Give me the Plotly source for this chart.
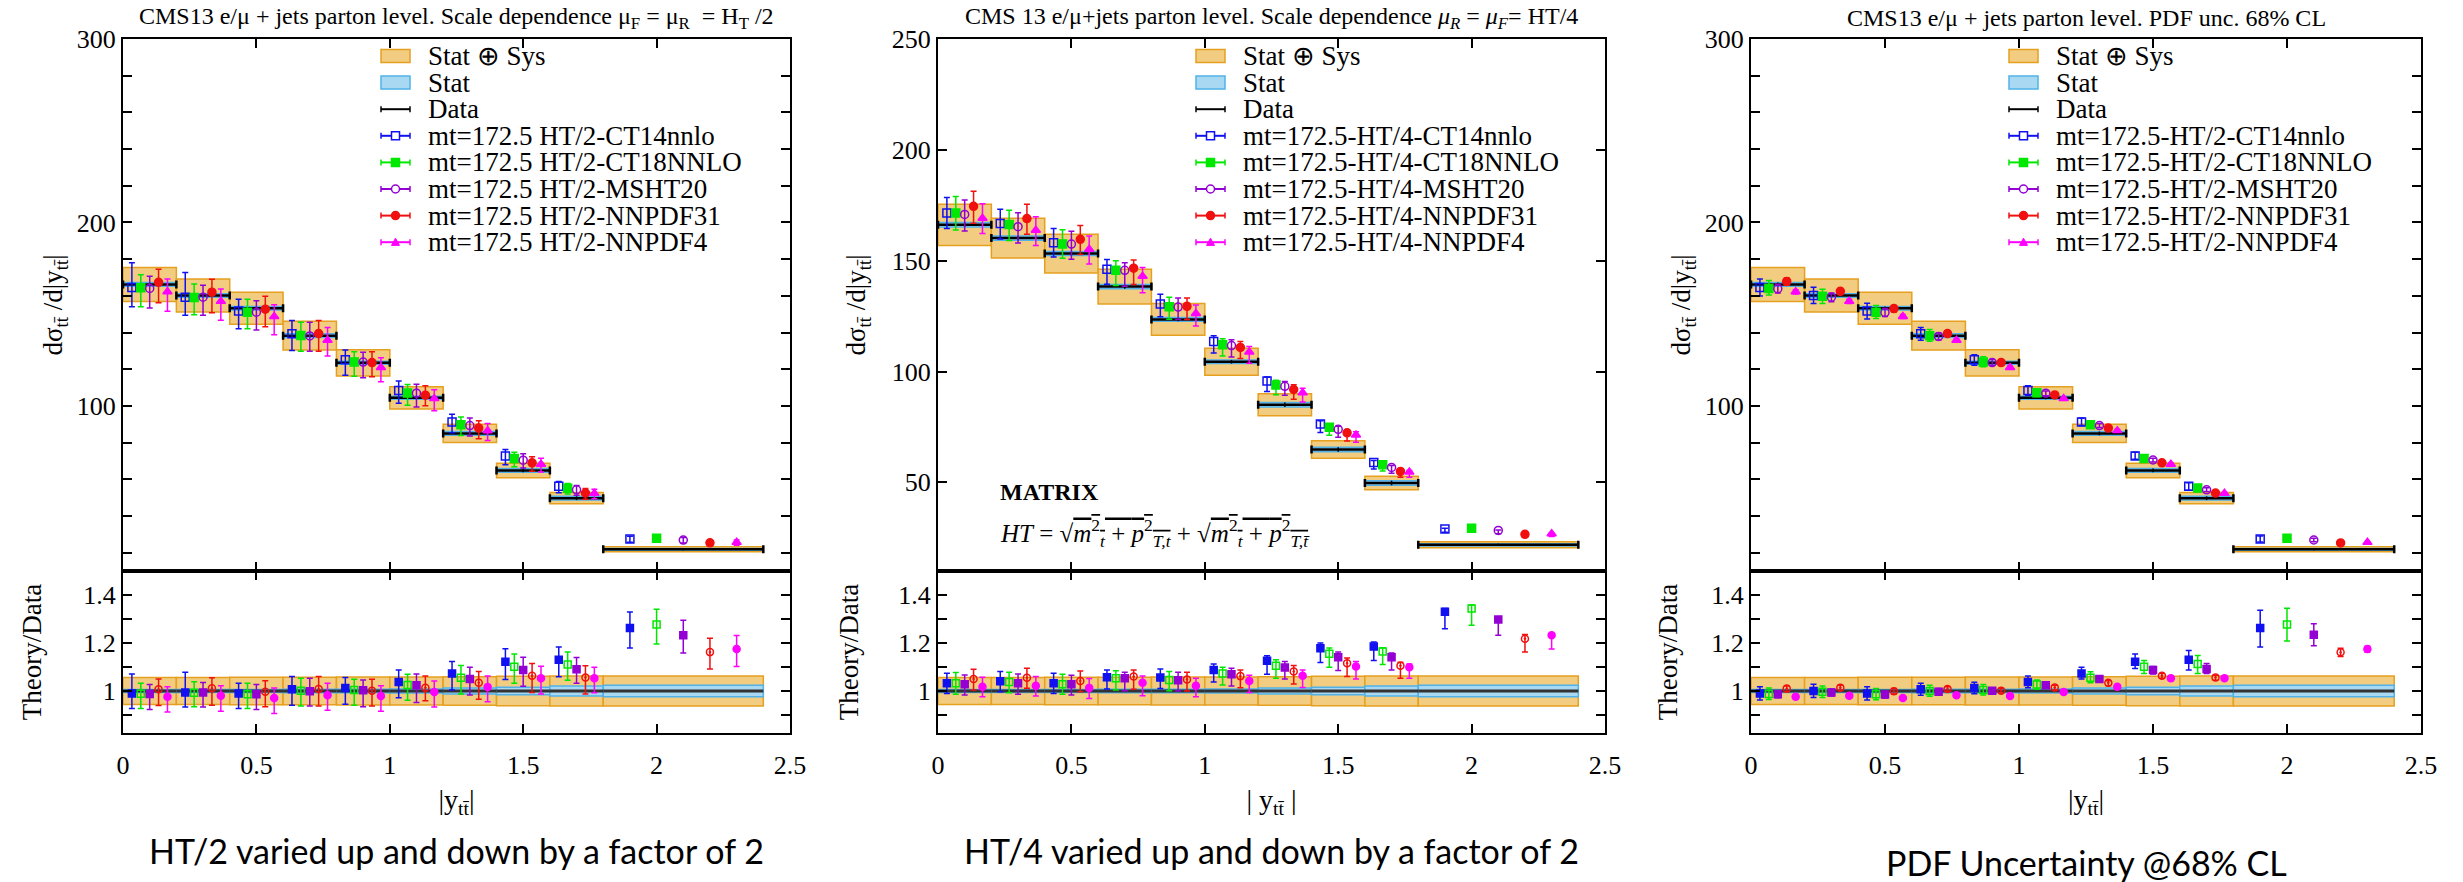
import plotly.graph_objects as go

# ------------------------------------------------------------------ data
BIN_LO = [0.0, 0.2, 0.4, 0.6, 0.8, 1.0, 1.2, 1.4, 1.6, 1.8]
BIN_HI = [0.2, 0.4, 0.6, 0.8, 1.0, 1.2, 1.4, 1.6, 1.8, 2.4]
DATA = [166.2, 160.2, 153.2, 138.3, 123.5, 104.4, 85.0, 64.8, 49.7, 21.8]
TOT_UNC = [0.056, 0.056, 0.057, 0.057, 0.058, 0.058, 0.059, 0.061, 0.062, 0.062]
STAT_UNC = [0.006, 0.006, 0.006, 0.007, 0.007, 0.008, 0.012, 0.016, 0.021, 0.024]

P1_LABELS = ["mt=172.5 HT/2-CT14nnlo", "mt=172.5 HT/2-CT18NNLO", "mt=172.5 HT/2-MSHT20",
             "mt=172.5 HT/2-NNPDF31", "mt=172.5 HT/2-NNPDF4"]
P2_LABELS = ["mt=172.5-HT/4-CT14nnlo", "mt=172.5-HT/4-CT18NNLO", "mt=172.5-HT/4-MSHT20",
             "mt=172.5-HT/4-NNPDF31", "mt=172.5-HT/4-NNPDF4"]
P3_LABELS = ["mt=172.5-HT/2-CT14nnlo", "mt=172.5-HT/2-CT18NNLO", "mt=172.5-HT/2-MSHT20",
             "mt=172.5-HT/2-NNPDF31", "mt=172.5-HT/2-NNPDF4"]
BOX_LABELS = ["Stat ⊕ Sys", "Stat", "Data"]

# theory / data : central, lower, upper  (panel 1: HT/2 scale variation)
P1_C = [
    [0.990, 0.994, 0.990, 1.007, 1.013, 1.038, 1.073, 1.122, 1.130, 1.262],
    [0.989, 0.993, 0.986, 1.001, 1.004, 1.025, 1.055, 1.101, 1.110, 1.277],
    [0.987, 0.994, 0.986, 0.999, 1.003, 1.024, 1.050, 1.087, 1.091, 1.232],
    [1.007, 1.011, 0.997, 1.008, 1.001, 1.014, 1.034, 1.064, 1.056, 1.162],
    [0.976, 0.980, 0.971, 0.982, 0.979, 0.996, 1.017, 1.053, 1.053, 1.175],
]
P1_LO = [
    [0.927, 0.933, 0.927, 0.941, 0.945, 0.972, 1.004, 1.048, 1.059, 1.179],
    [0.927, 0.934, 0.927, 0.938, 0.941, 0.961, 0.987, 1.032, 1.045, 1.196],
    [0.923, 0.933, 0.923, 0.938, 0.934, 0.952, 0.983, 1.020, 1.032, 1.158],
    [0.940, 0.941, 0.934, 0.938, 0.938, 0.959, 0.966, 0.994, 0.987, 1.092],
    [0.912, 0.916, 0.906, 0.920, 0.916, 0.933, 0.955, 0.987, 0.993, 1.102],
]
P1_HI = [
    [1.071, 1.078, 1.032, 1.060, 1.056, 1.088, 1.123, 1.176, 1.183, 1.329],
    [1.032, 1.039, 1.032, 1.053, 1.049, 1.070, 1.106, 1.154, 1.162, 1.341],
    [1.027, 1.035, 1.027, 1.053, 1.046, 1.071, 1.099, 1.141, 1.140, 1.295],
    [1.050, 1.055, 1.043, 1.060, 1.049, 1.063, 1.081, 1.115, 1.105, 1.220],
    [1.018, 1.022, 1.013, 1.032, 1.022, 1.042, 1.063, 1.103, 1.099, 1.231],
]

# panel 2: HT/4 scale variation
P2_C = [
    [1.032, 1.041, 1.032, 1.057, 1.056, 1.087, 1.126, 1.178, 1.185, 1.330],
    [1.032, 1.038, 1.028, 1.053, 1.046, 1.073, 1.105, 1.155, 1.165, 1.344],
    [1.028, 1.032, 1.028, 1.053, 1.045, 1.070, 1.098, 1.141, 1.141, 1.298],
    [1.050, 1.055, 1.042, 1.060, 1.048, 1.062, 1.081, 1.116, 1.105, 1.218],
    [1.018, 1.022, 1.013, 1.034, 1.022, 1.042, 1.064, 1.102, 1.099, 1.232],
]
P2_LO = [
    [0.990, 0.997, 0.990, 1.008, 1.010, 1.038, 1.070, 1.119, 1.127, 1.259],
    [0.986, 0.993, 0.986, 1.004, 1.001, 1.025, 1.053, 1.099, 1.110, 1.274],
    [0.983, 0.986, 0.983, 1.001, 1.000, 1.021, 1.050, 1.085, 1.088, 1.232],
    [1.004, 1.011, 0.997, 1.007, 1.000, 1.014, 1.029, 1.060, 1.053, 1.162],
    [0.976, 0.979, 0.969, 0.980, 0.976, 0.994, 1.015, 1.050, 1.053, 1.175],
]
P2_HI = [
    [1.074, 1.081, 1.074, 1.088, 1.092, 1.112, 1.147, 1.200, 1.204, 1.344],
    [1.077, 1.078, 1.070, 1.084, 1.081, 1.099, 1.130, 1.179, 1.180, 1.358],
    [1.067, 1.071, 1.066, 1.078, 1.078, 1.095, 1.123, 1.162, 1.158, 1.308],
    [1.091, 1.095, 1.083, 1.087, 1.078, 1.088, 1.106, 1.137, 1.120, 1.235],
    [1.057, 1.060, 1.052, 1.062, 1.053, 1.066, 1.088, 1.123, 1.113, 1.239],
]

# panel 3: PDF uncertainty at 68% CL
P3_C = [
    [0.990, 1.000, 0.990, 1.007, 1.013, 1.038, 1.073, 1.122, 1.130, 1.262],
    [0.987, 0.997, 0.986, 1.000, 1.004, 1.027, 1.055, 1.101, 1.112, 1.277],
    [0.986, 0.994, 0.985, 0.997, 1.001, 1.024, 1.050, 1.088, 1.092, 1.234],
    [1.010, 1.014, 0.999, 1.008, 1.001, 1.015, 1.034, 1.064, 1.056, 1.161],
    [0.976, 0.980, 0.971, 0.982, 0.979, 0.996, 1.018, 1.053, 1.053, 1.175],
]
P3_LO = [
    [0.962, 0.973, 0.962, 0.982, 0.989, 1.014, 1.050, 1.094, 1.088, 1.183],
    [0.965, 0.973, 0.964, 0.978, 0.983, 1.007, 1.034, 1.073, 1.073, 1.208],
    [0.972, 0.979, 0.971, 0.983, 0.989, 1.011, 1.038, 1.071, 1.073, 1.189],
    [0.997, 1.003, 0.987, 0.999, 0.992, 1.004, 1.022, 1.053, 1.045, 1.144],
    [0.969, 0.973, 0.964, 0.975, 0.972, 0.989, 1.011, 1.043, 1.045, 1.161],
]
P3_HI = [
    [1.018, 1.028, 1.018, 1.032, 1.036, 1.063, 1.099, 1.154, 1.169, 1.336],
    [1.013, 1.021, 1.010, 1.024, 1.027, 1.046, 1.080, 1.127, 1.148, 1.345],
    [1.001, 1.008, 0.999, 1.010, 1.014, 1.035, 1.063, 1.102, 1.115, 1.280],
    [1.021, 1.024, 1.010, 1.018, 1.011, 1.024, 1.043, 1.073, 1.066, 1.178],
    [0.983, 0.987, 0.978, 0.987, 0.986, 1.001, 1.025, 1.060, 1.062, 1.186],
]

TITLES = [
    "CMS13 e/μ + jets parton level. Scale dependence μ<sub>F</sub> = μ<sub>R</sub>  = H<sub>T</sub> /2",
    "CMS 13 e/μ+jets parton level. Scale dependence <i>μ<sub>R</sub></i> = <i>μ<sub>F</sub></i>= HT/4",
    "CMS13 e/μ + jets parton level. PDF unc. 68% CL",
]
CAPTIONS = ["HT/2 varied up and down by a factor of 2",
            "HT/4 varied up and down by a factor of 2",
            "PDF Uncertainty @68% CL"]

# ------------------------------------------------------------------ style
SERIF = "Liberation Serif, Times New Roman, serif"
COLORS = ["#1010f0", "#00e800", "#9400d3", "#f01010", "#ff00ff"]
MAIN_SYM = ["square-open", "square", "circle-open", "circle", "triangle-up"]
RATIO_SYM = ["square", "square-open", "square", "circle-open-dot", "circle"]
ORANGE_FILL, ORANGE_LINE = "#f2cc80", "#e5a020"
BLUE_FILL, BLUE_LINE = "#a8d8f2", "#50b2e8"

W, H = 2463, 882
PANEL_X = [(123, 790), (938, 1605), (1751, 2421)]
MAIN_Y = (39, 571)
RATIO_Y = (571, 733)


def px_x(v):
    return v / W


def px_y(v):
    return 1 - v / H


centers = [(a + b) / 2 for a, b in zip(BIN_LO, BIN_HI)]
widths = [b - a for a, b in zip(BIN_LO, BIN_HI)]
half = [w / 2 for w in widths]

fig = go.Figure()

panels = [
    (P1_LABELS, P1_C, P1_LO, P1_HI, [10, 300], 100, 20),
    (P2_LABELS, P2_C, P2_LO, P2_HI, [10, 250], 50, None),
    (P3_LABELS, P3_C, P3_LO, P3_HI, [10, 300], 100, 20),
]

for p, (labels, rc, rlo, rhi, yrange, dtick, minor) in enumerate(panels):
    xm, ym = f"x{2 * p + 1}", f"y{2 * p + 1}"
    xr, yr = f"x{2 * p + 2}", f"y{2 * p + 2}"

    # ---- main panel: Stat (+) Sys and Stat boxes, data line
    tot_abs = [d * u for d, u in zip(DATA, TOT_UNC)]
    st_abs = [d * u for d, u in zip(DATA, STAT_UNC)]
    fig.add_trace(go.Bar(x=centers, y=[2 * t for t in tot_abs],
                         base=[d - t for d, t in zip(DATA, tot_abs)], width=widths,
                         marker=dict(color=ORANGE_FILL, line=dict(color=ORANGE_LINE, width=1.5)),
                         name=BOX_LABELS[0], showlegend=False, xaxis=xm, yaxis=ym))
    fig.add_trace(go.Bar(x=centers, y=[2 * s for s in st_abs],
                         base=[d - s for d, s in zip(DATA, st_abs)], width=widths,
                         marker=dict(color=BLUE_FILL, line=dict(color=BLUE_LINE, width=1.5)),
                         name=BOX_LABELS[1], showlegend=False, xaxis=xm, yaxis=ym))
    fig.add_trace(go.Scatter(x=centers, y=DATA, mode="markers", name=BOX_LABELS[2],
                             marker=dict(size=1, color="black"),
                             error_x=dict(type="data", array=half, color="black", thickness=2.5, width=4),
                             error_y=dict(type="data", array=st_abs, color="black", thickness=1.5, width=0),
                             showlegend=False, xaxis=xm, yaxis=ym))

    # ---- ratio panel boxes
    fig.add_trace(go.Bar(x=centers, y=[2 * u for u in TOT_UNC], base=[1 - u for u in TOT_UNC],
                         width=widths, name=BOX_LABELS[0],
                         marker=dict(color=ORANGE_FILL, line=dict(color=ORANGE_LINE, width=1.5)),
                         showlegend=False, xaxis=xr, yaxis=yr))
    fig.add_trace(go.Bar(x=centers, y=[2 * u for u in STAT_UNC], base=[1 - u for u in STAT_UNC],
                         width=widths, name=BOX_LABELS[1],
                         marker=dict(color=BLUE_FILL, line=dict(color=BLUE_LINE, width=1.5)),
                         showlegend=False, xaxis=xr, yaxis=yr))
    fig.add_trace(go.Scatter(x=centers, y=[d / d for d in DATA], mode="markers", name=BOX_LABELS[2],
                             marker=dict(size=1, color="#333333"),
                             error_x=dict(type="data", array=half, color="#333333", thickness=3, width=0),
                             showlegend=False, xaxis=xr, yaxis=yr))

    # ---- theory predictions
    for k in range(5):
        xs = [a + (k + 1) * (b - a) / 6 for a, b in zip(BIN_LO, BIN_HI)]
        c, lo, hi = rc[k], rlo[k], rhi[k]
        main_y = [d * v for d, v in zip(DATA, c)]
        main_up = [d * (h - v) for d, v, h in zip(DATA, c, hi)]
        main_dn = [d * (v - l) for d, v, l in zip(DATA, c, lo)]
        fig.add_trace(go.Scatter(
            x=xs, y=main_y, mode="markers", name=labels[k],
            marker=dict(symbol=MAIN_SYM[k], size=8, color=COLORS[k], line=dict(color=COLORS[k], width=1.5)),
            error_y=dict(type="data", symmetric=False, array=main_up, arrayminus=main_dn,
                         color=COLORS[k], thickness=1.5, width=3),
            showlegend=False, xaxis=xm, yaxis=ym))
        fig.add_trace(go.Scatter(
            x=xs, y=c, mode="markers", name=labels[k],
            marker=dict(symbol=RATIO_SYM[k], size=7, color=COLORS[k], line=dict(color=COLORS[k], width=1.5)),
            error_y=dict(type="data", symmetric=False,
                         array=[h - v for v, h in zip(c, hi)],
                         arrayminus=[v - l for v, l in zip(c, lo)],
                         color=COLORS[k], thickness=1.5, width=3),
            showlegend=False, xaxis=xr, yaxis=yr))


# ------------------------------------------------------------------ axes
def common():
    return dict(showline=True, linewidth=2, linecolor="black", mirror="ticks", ticks="inside",
                ticklen=9, tickwidth=1.5, tickcolor="black", showgrid=False, zeroline=False,
                tickfont=dict(family=SERIF, size=26, color="black"), automargin=False)


layout_axes = {}
ytitle_main = "dσ<sub>tt̄</sub> /d|y<sub>tt̄</sub>|"
xtitles = ["|y<sub>tt̄</sub>|", "| y<sub>tt̄</sub> |", "|y<sub>tt̄</sub>|"]
main_standoff = [6, 18, 6]
ratio_standoff = [34, 32, 26]
for p, (labels, rc, rlo, rhi, yrange, dtick, minor) in enumerate(panels):
    x0, x1 = PANEL_X[p]
    dom_x = [px_x(x0), px_x(x1)]
    im, ir = 2 * p + 1, 2 * p + 2
    xa_m = common()
    xa_m.update(domain=dom_x, range=[0, 2.5], dtick=0.5, tick0=0, showticklabels=False,
                anchor=f"y{im}")
    ya_m = common()
    ya_m.update(domain=[px_y(MAIN_Y[1]), px_y(MAIN_Y[0])], range=yrange, dtick=dtick, tick0=0,
                anchor=f"x{im}",
                title=dict(text=ytitle_main, font=dict(family=SERIF, size=27, color="black"),
                           standoff=main_standoff[p]))
    if minor:
        ya_m["minor"] = dict(dtick=minor, tick0=0, ticks="inside", ticklen=9, tickcolor="black",
                             tickwidth=1.5)
    xa_r = common()
    xa_r.update(domain=dom_x, range=[0, 2.5], dtick=0.5, tick0=0, anchor=f"y{ir}",
                ticklabelstandoff=8,
                title=dict(text=xtitles[p], font=dict(family=SERIF, size=28, color="black"),
                           standoff=10))
    ya_r = common()
    ya_r.update(domain=[px_y(RATIO_Y[1]), px_y(RATIO_Y[0])], range=[0.825, 1.5], dtick=0.2, tick0=1,
                anchor=f"x{ir}",
                minor=dict(dtick=0.1, tick0=1, ticks="inside", ticklen=9, tickcolor="black", tickwidth=1.5),
                title=dict(text="Theory/Data", font=dict(family=SERIF, size=27, color="black"),
                           standoff=ratio_standoff[p]))
    sfx_m = "" if im == 1 else str(im)
    layout_axes[f"xaxis{sfx_m}"] = xa_m
    layout_axes[f"yaxis{sfx_m}"] = ya_m
    layout_axes[f"xaxis{ir}"] = xa_r
    layout_axes[f"yaxis{ir}"] = ya_r

fig.update_layout(**layout_axes)

# ------------------------------------------------------------------ legends (drawn per panel)
annotations = []
shapes = []
LEG_GLYPH_OFF = 258      # px from panel left to glyph start
LEG_GLYPH_W = 29
LEG_TEXT_OFF = 303
LEG_TOP = 56
LEG_STEP = 26.6


def rect(xa, ya, xb, yb, fill, line, lw=1.5):
    shapes.append(dict(type="rect", xref="paper", yref="paper",
                       x0=px_x(xa), x1=px_x(xb), y0=px_y(yb), y1=px_y(ya),
                       fillcolor=fill, line=dict(color=line, width=lw), layer="above"))


def seg(xa, ya, xb, yb, color, lw):
    shapes.append(dict(type="line", xref="paper", yref="paper",
                       x0=px_x(xa), x1=px_x(xb), y0=px_y(ya), y1=px_y(yb),
                       line=dict(color=color, width=lw), layer="above"))


def glyph_marker(sym, cx, cy, color):
    r = 4
    if sym in ("square-open", "square"):
        rect(cx - r, cy - r, cx + r, cy + r, "white" if sym == "square-open" else color, color, 1.5)
    elif sym in ("circle-open", "circle"):
        shapes.append(dict(type="circle", xref="paper", yref="paper",
                           x0=px_x(cx - r), x1=px_x(cx + r), y0=px_y(cy + r), y1=px_y(cy - r),
                           fillcolor="white" if sym == "circle-open" else color,
                           line=dict(color=color, width=1.5), layer="above"))
    else:
        path = (f"M {px_x(cx - r)} {px_y(cy + r * 0.8)} L {px_x(cx + r)} {px_y(cy + r * 0.8)} "
                f"L {px_x(cx)} {px_y(cy - r)} Z")
        shapes.append(dict(type="path", xref="paper", yref="paper", path=path,
                           fillcolor=color, line=dict(color=color, width=1), layer="above"))


for p in range(3):
    left = PANEL_X[p][0]
    gx0 = left + LEG_GLYPH_OFF
    gx1 = gx0 + LEG_GLYPH_W
    tx = left + LEG_TEXT_OFF
    labels = panels[p][0]
    texts = BOX_LABELS + labels
    for i, t in enumerate(texts):
        cy = LEG_TOP + i * LEG_STEP
        annotations.append(dict(text=t, x=px_x(tx), y=px_y(cy), xref="paper", yref="paper",
                                showarrow=False, xanchor="left", yanchor="middle",
                                font=dict(family=SERIF, size=27, color="black")))
        if i == 0:
            rect(gx0, cy - 6.5, gx1, cy + 6.5, ORANGE_FILL, ORANGE_LINE)
        elif i == 1:
            rect(gx0, cy - 6.5, gx1, cy + 6.5, BLUE_FILL, BLUE_LINE)
        else:
            col = "black" if i == 2 else COLORS[i - 3]
            seg(gx0, cy, gx1, cy, col, 2)
            seg(gx0, cy - 3, gx0, cy + 3, col, 1.5)
            seg(gx1, cy - 3, gx1, cy + 3, col, 1.5)
            if i > 2:
                glyph_marker(MAIN_SYM[i - 3], (gx0 + gx1) / 2, cy, col)

# ------------------------------------------------------------------ titles, captions, notes
caption_y = [850, 850, 862]
for p in range(3):
    x0, x1 = PANEL_X[p]
    annotations.append(dict(text=TITLES[p], x=px_x((x0 + x1) / 2), y=px_y(18), xref="paper", yref="paper",
                            showarrow=False, xanchor="center", yanchor="middle",
                            font=dict(family=SERIF, size=24, color="black")))
    annotations.append(dict(text=CAPTIONS[p], x=px_x((x0 + x1) / 2), y=px_y(caption_y[p]),
                            xref="paper", yref="paper", showarrow=False, xanchor="center",
                            yanchor="middle", font=dict(family="Lato", size=34, color="black")))

annotations.append(dict(text="<b>MATRIX</b>", x=px_x(998), y=px_y(492), xref="paper", yref="paper",
                        showarrow=False, xanchor="left", yanchor="middle",
                        font=dict(family=SERIF, size=24, color="black")))
formula = ("<i>HT</i> = √<span style='text-decoration:overline'><i>m</i><sup>2</sup><sub><i>t</i></sub>"
           " + <i>p</i><sup>2</sup><sub><i>T,t</i></sub></span> + "
           "√<span style='text-decoration:overline'><i>m</i><sup>2</sup><sub><i>t</i></sub>"
           " + <i>p</i><sup>2</sup><sub><i>T,t̄</i></sub></span>")
annotations.append(dict(text=formula, x=px_x(998), y=px_y(533), xref="paper", yref="paper",
                        showarrow=False, xanchor="left", yanchor="middle",
                        font=dict(family=SERIF, size=25, color="black")))

fig.update_layout(
    width=W, height=H, margin=dict(l=0, r=0, t=0, b=0),
    paper_bgcolor="white", plot_bgcolor="white", showlegend=False,
    barmode="overlay", annotations=annotations, shapes=shapes,
    font=dict(family=SERIF, color="black"),
)

fig.write_html("out.html")
